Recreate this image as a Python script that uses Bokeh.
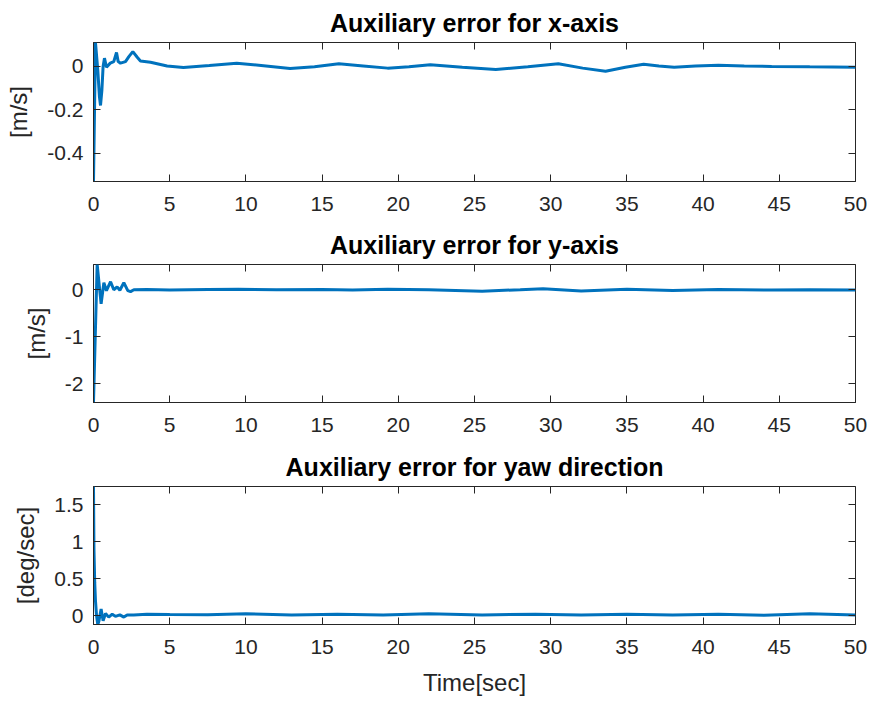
from bokeh.plotting import figure
from bokeh.models import Range1d, FixedTicker, LinearAxis
from bokeh.layouts import column
from bokeh.embed import file_html
from bokeh.resources import INLINE

# ---------------- data ----------------
x_ticks = [0, 5, 10, 15, 20, 25, 30, 35, 40, 45, 50]

t1 = [0, 0.13, 0.28, 0.39, 0.46, 0.55, 0.63, 0.72, 0.85, 1.1, 1.33, 1.51, 1.62, 1.77, 2.1,
      2.32, 2.58, 2.87, 3.08, 3.74, 4.83, 5.9, 7.6, 9.4, 11.0, 12.9, 14.5, 16.1, 17.7, 19.3,
      20.7, 22.1, 24.2, 26.4, 28.5, 30.5, 32.1, 33.6, 34.9, 36.1, 37.1, 38.1, 39.5, 41.0, 42.7,
      44.5, 47.0, 50.0]
e1 = [-0.53, 0.11, -0.016, -0.14, -0.18, -0.11, 0.0, 0.038, -0.004, 0.015, 0.022, 0.064, 0.022,
      0.015, 0.022, 0.045, 0.068, 0.042, 0.025, 0.019, 0.002, -0.005, 0.004, 0.015, 0.004, -0.01,
      -0.002, 0.012, 0.002, -0.008, -0.002, 0.008, -0.004, -0.014, -0.002, 0.012, -0.008, -0.022,
      -0.004, 0.01, 0.002, -0.004, 0.002, 0.005, 0.002, 0.0, -0.002, -0.004]
y1_ticks = [-0.4, -0.2, 0]
y1_labels = ["-0.4", "-0.2", "0"]

t2 = [0, 0.24, 0.5, 0.68, 0.85, 1.12, 1.33, 1.55, 1.73, 1.99, 2.25, 2.43, 2.65, 3.5, 5.0, 7.5,
      9.5, 12.0, 15.0, 17.0, 19.3, 22.0, 25.5, 28.0, 29.5, 32.0, 35.0, 38.0, 41.0, 44.5, 47.0, 50.0]
e2 = [-2.40, 0.537, -0.30, 0.15, -0.02, 0.17, 0.0, 0.06, -0.01, 0.15, -0.02, -0.04, 0.0, 0.005,
      -0.005, 0.005, 0.012, 0.0, 0.005, -0.005, 0.008, 0.0, -0.03, 0.0, 0.02, -0.025, 0.012,
      -0.015, 0.005, -0.005, 0.0, -0.008]
y2_ticks = [-2, -1, 0]
y2_labels = ["-2", "-1", "0"]

t3 = [0, 0.03, 0.08, 0.13, 0.2, 0.28, 0.35, 0.5, 0.63, 0.79, 1.0, 1.23, 1.44, 1.73, 1.99, 2.21,
      2.64, 3.5, 5.0, 7.5, 10.0, 13.0, 16.0, 19.0, 22.0, 25.5, 29.0, 32.0, 35.0, 38.0, 41.0, 44.0,
      47.0, 50.0]
e3 = [1.75, 0.9, 0.45, 0.2, 0.0, -0.12, -0.08, 0.09, -0.07, 0.03, -0.02, 0.02, -0.01, 0.01,
      -0.02, 0.01, 0.01, 0.02, 0.015, 0.012, 0.025, 0.01, 0.02, 0.01, 0.025, 0.01, 0.018, 0.008,
      0.02, 0.01, 0.02, 0.005, 0.025, 0.008]
y3_ticks = [0, 0.5, 1, 1.5]
y3_labels = ["0", "0.5", "1", "1.5"]

titles = ["Auxiliary error for x-axis", "Auxiliary error for y-axis",
          "Auxiliary error for yaw direction"]
ylabels = ["[m/s]", "[m/s]", "[deg/sec]"]
xlabel = "Time[sec]"

# ---------------- style ----------------
FONT = "Liberation Sans"
LINE_COLOR = "#0072BD"
AX_COLOR = "#262626"
TICK_FS = "21px"
LABEL_FS = "24px"
TITLE_FS = "25px"


def style_axis(ax, show_labels=True):
    ax.major_tick_in = 7
    ax.major_tick_out = 0
    ax.minor_tick_in = 0
    ax.minor_tick_out = 0
    ax.major_tick_line_color = AX_COLOR
    ax.axis_line_color = AX_COLOR
    ax.major_label_text_font = FONT
    ax.axis_label_text_font = FONT
    ax.axis_label_text_font_style = "normal"
    ax.axis_label_text_color = AX_COLOR
    ax.axis_label_text_font_size = LABEL_FS
    if show_labels:
        ax.major_label_text_font_size = TICK_FS
        ax.major_label_text_color = AX_COLOR
    else:
        ax.major_label_text_font_size = "1px"
        ax.major_label_text_color = None
        ax.major_label_standoff = 0


def make(title, t, e, yt, yl, ylab, height, top, bottom, xlab=None):
    p = figure(width=870, height=height, output_backend="svg", toolbar_location=None,
               x_range=Range1d(0, 50), y_range=Range1d(min(e), max(e)),
               min_border_left=93, min_border_right=15,
               min_border_top=top, min_border_bottom=bottom, title=title)
    p.title.align = "center"
    p.title.text_font = FONT
    p.title.text_font_size = TITLE_FS
    p.title.text_font_style = "bold"
    p.title.text_color = "#000000"
    p.title.standoff = 12
    p.xgrid.visible = False
    p.ygrid.visible = False
    p.outline_line_color = AX_COLOR
    p.outline_line_alpha = 1.0
    p.background_fill_color = "white"
    p.border_fill_color = "white"

    p.xaxis.ticker = FixedTicker(ticks=x_ticks)
    p.yaxis.ticker = FixedTicker(ticks=yt)
    p.yaxis.major_label_overrides = dict(zip(yt, yl))
    for ax in p.xaxis:
        style_axis(ax)
        ax.major_label_standoff = 15
    for ax in p.yaxis:
        style_axis(ax)
        ax.major_label_standoff = 10
        ax.axis_label_standoff = 12
    p.yaxis.axis_label = ylab
    if xlab:
        p.xaxis.axis_label = xlab
        p.xaxis.axis_label_standoff = 12

    top_ax = LinearAxis(ticker=FixedTicker(ticks=x_ticks))
    style_axis(top_ax, show_labels=False)
    top_ax.axis_line_color = None
    p.add_layout(top_ax, "above")
    right_ax = LinearAxis(ticker=FixedTicker(ticks=yt))
    style_axis(right_ax, show_labels=False)
    right_ax.axis_line_color = None
    p.add_layout(right_ax, "right")

    p.line(t, e, line_color=LINE_COLOR, line_width=3)
    return p


p1 = make(titles[0], t1, e1, y1_ticks, y1_labels, ylabels[0], 222, 42, 41)
p2 = make(titles[1], t2, e2, y2_ticks, y2_labels, ylabels[1], 222, 40, 42)
p3 = make(titles[2], t3, e3, y3_ticks, y3_labels, ylabels[2], 256, 40, 76, xlab=xlabel)

layout = column(p1, p2, p3, spacing=0)
open("out.html", "w").write(file_html(layout, INLINE, title="plot"))
